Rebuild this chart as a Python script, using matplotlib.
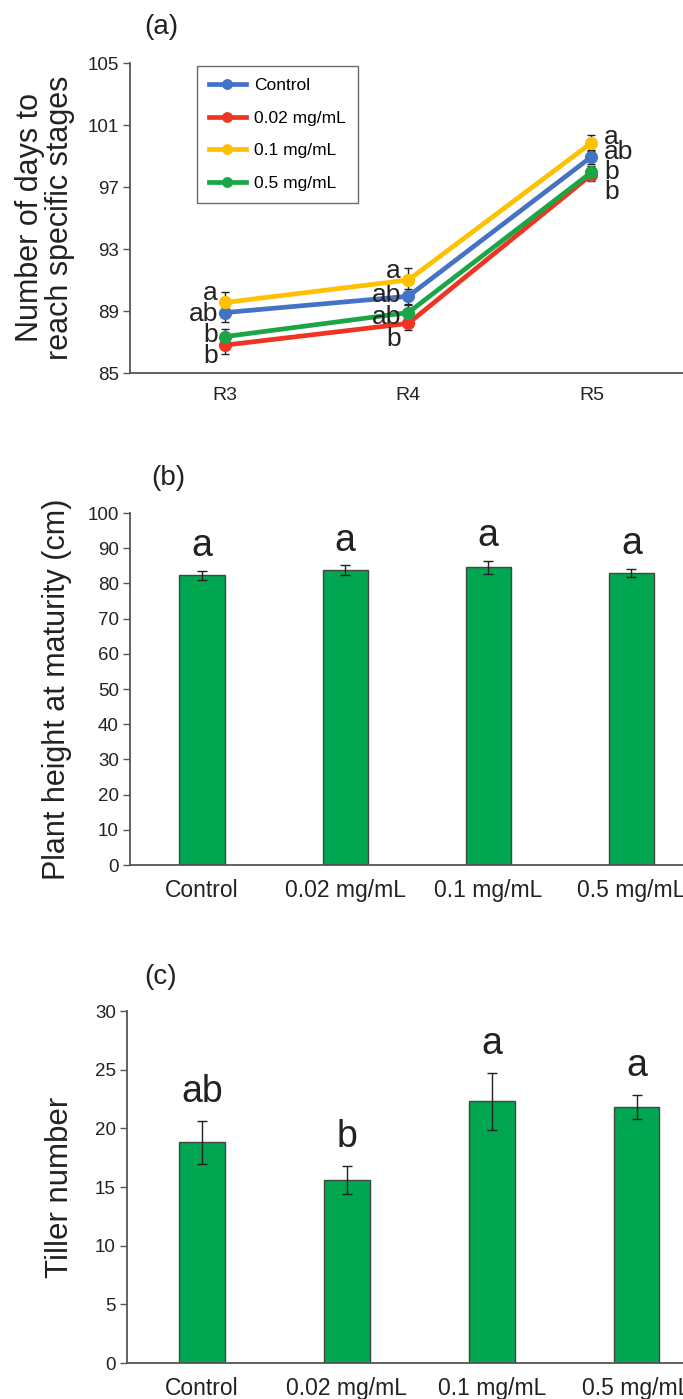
import numpy as np
import matplotlib.pyplot as plt

# шрифт, похожий на Arial
plt.rcParams['font.family'] = ['Liberation Sans', 'DejaVu Sans']

# (a) число дней до стадий
stages = ['R3', 'R4', 'R5']
treatments = ['Control', '0.02 mg/mL', '0.1 mg/mL', '0.5 mg/mL']
days_control = [88.9, 89.95, 98.95]
days_002 = [86.8, 88.2, 97.8]
days_01 = [89.55, 91.0, 99.85]
days_05 = [87.35, 88.9, 97.95]
err_control = [0.6, 0.5, 0.45]
err_002 = [0.55, 0.45, 0.4]
err_01 = [0.65, 0.75, 0.5]
err_05 = [0.5, 0.5, 0.4]
letters_control = ['ab', 'ab', 'ab']
letters_002 = ['b', 'b', 'b']
letters_01 = ['a', 'a', 'a']
letters_05 = ['b', 'ab', 'b']

# (b) высота растений
height = [82.3, 83.8, 84.6, 83.0]
height_err = [1.3, 1.3, 1.8, 1.1]
height_letters = ['a', 'a', 'a', 'a']

# (c) число побегов
tillers = [18.8, 15.6, 22.3, 21.8]
tillers_err = [1.8, 1.2, 2.4, 1.0]
tillers_letters = ['ab', 'b', 'a', 'a']

W, H = 683, 1399
fig = plt.figure(figsize=(W / 100, H / 100), dpi=100)
TXT = '#222222'


def box(l, b, r, t):
    return [l / W, 1 - b / H, (r - l) / W, (b - t) / H]


def style(ax, xsize):
    for s in ['top', 'right']:
        ax.spines[s].set_visible(False)
    for s in ['left', 'bottom']:
        ax.spines[s].set_color('#555555')
        ax.spines[s].set_linewidth(1.3)
    ax.tick_params(axis='y', length=5, width=1.0, color='#555555', pad=3,
                   labelsize=13.5, labelcolor=TXT)
    ax.tick_params(axis='x', length=0, pad=10, labelsize=xsize, labelcolor=TXT)


# ---------- (a) ----------
ax1 = fig.add_axes(box(130, 373, 683, 63))
x = np.arange(len(stages))
series = [(days_control, err_control, letters_control, '#4472C4', 'Control'),
          (days_002, err_002, letters_002, '#EE3524', '0.02 mg/mL'),
          (days_01, err_01, letters_01, '#FFC000', '0.1 mg/mL'),
          (days_05, err_05, letters_05, '#1AA547', '0.5 mg/mL')]
# сдвиги букв по вертикали (в днях) для каждой серии и стадии
label_dy = [[-0.1, 0.05, 0.3], [-0.7, -1.0, -1.1], [0.6, 0.6, 0.35], [0.1, -0.3, 0.0]]
for (vals, err, lets, col, name), dy in zip(series, label_dy):
    ax1.errorbar(x, vals, yerr=err, fmt='none', ecolor=TXT, elinewidth=1,
                 capsize=3, capthick=1, zorder=2)
    ax1.plot(x, vals, '-o', color=col, lw=3.4, ms=8.5, label=name, zorder=3)
    for i in range(len(x)):
        if i < 2:
            ax1.text(x[i] - 0.04, vals[i] + dy[i], lets[i], ha='right', va='center',
                     fontsize=19, color=TXT)
        else:
            ax1.text(x[i] + 0.07, vals[i] + dy[i], lets[i], ha='left', va='center',
                     fontsize=19, color=TXT)
ax1.set_xlim(-0.52, 2.5)
ax1.set_ylim(85, 105)
ax1.set_yticks([85, 89, 93, 97, 101, 105])
ax1.set_xticks(x)
ax1.set_xticklabels(stages)
style(ax1, 14)
ax1.set_ylabel('Number of days to\nreach specific stages', fontsize=22,
               color=TXT, linespacing=1.0)
ax1.yaxis.set_label_coords(-0.10, 0.5)
leg = ax1.legend(loc='upper left', bbox_to_anchor=(0.121, 0.99), frameon=True,
                 fancybox=False, edgecolor='#444444', prop={'size': 12.5},
                 handlelength=2.1, handletextpad=0.5, labelspacing=1.0,
                 borderpad=0.7, borderaxespad=0, markerscale=0.8)
leg.get_frame().set_linewidth(1.0)
fig.text(161 / W, 1 - 27 / H, '(a)', fontsize=20, ha='center', va='center', color=TXT)

# ---------- (b) ----------
ax2 = fig.add_axes(box(130, 865, 683, 513))
xb = np.arange(len(treatments))
ax2.bar(xb, height, width=0.315, color='#00A650', edgecolor='#444444', linewidth=1, zorder=2)
ax2.errorbar(xb, height, yerr=height_err, fmt='none', ecolor=TXT, elinewidth=1,
             capsize=3.5, capthick=1, zorder=3)
for i in range(len(xb)):
    ax2.text(xb[i], height[i] + height_err[i] + 7.0, height_letters[i], ha='center',
             va='center', fontsize=27, color=TXT)
ax2.set_xlim(-0.503, 3.36)
ax2.set_ylim(0, 100)
ax2.set_yticks(np.arange(0, 101, 10))
ax2.set_xticks(xb)
ax2.set_xticklabels(treatments)
style(ax2, 16.5)
ax2.set_ylabel('Plant height at maturity (cm)', fontsize=22, color=TXT)
ax2.yaxis.set_label_coords(-0.105, 0.5)
fig.text(168 / W, 1 - 478 / H, '(b)', fontsize=20, ha='center', va='center', color=TXT)

# ---------- (c) ----------
ax3 = fig.add_axes(box(127, 1363, 683, 1011))
ax3.bar(xb, tillers, width=0.315, color='#00A650', edgecolor='#444444', linewidth=1, zorder=2)
ax3.errorbar(xb, tillers, yerr=tillers_err, fmt='none', ecolor=TXT, elinewidth=1,
             capsize=3.5, capthick=1, zorder=3)
for i in range(len(xb)):
    ax3.text(xb[i], tillers[i] + tillers_err[i] + 2.5, tillers_letters[i], ha='center',
             va='center', fontsize=27, color=TXT)
ax3.set_xlim(-0.517, 3.32)
ax3.set_ylim(0, 30)
ax3.set_yticks(np.arange(0, 31, 5))
ax3.set_xticks(xb)
ax3.set_xticklabels(treatments)
style(ax3, 16.5)
ax3.set_ylabel('Tiller number', fontsize=22.5, color=TXT)
ax3.yaxis.set_label_coords(-0.094, 0.5)
fig.text(161 / W, 1 - 977 / H, '(c)', fontsize=20, ha='center', va='center', color=TXT)

fig.savefig('out.png', dpi=100)
